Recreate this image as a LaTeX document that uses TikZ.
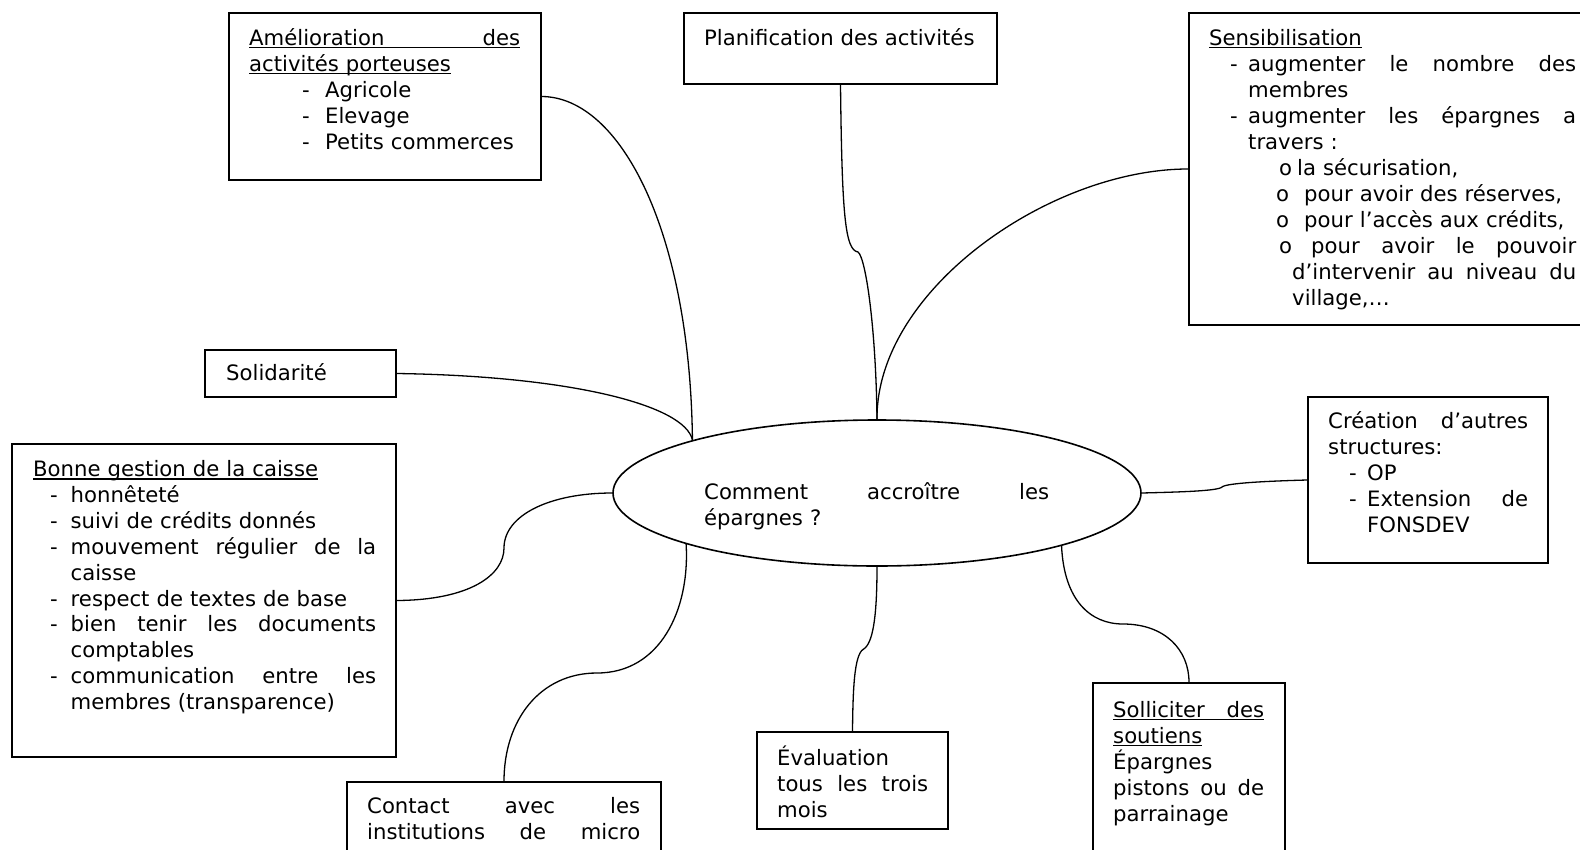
\documentclass[tikz,border=0pt]{standalone}
\usepackage{fontspec}
\setmainfont{DejaVu Sans}
\usetikzlibrary{shapes.geometric}
\newcommand\ulx[1]{\leavevmode\setbox0\hbox{#1}\rlap{\rule[-3pt]{\wd0}{1.2pt}}\box0}
\newcommand\jline[2]{\leavevmode\hbox to #1{#2}}
\newcommand\itm[2]{\hspace*{#1}\makebox[#2][l]{-}}
\begin{document}
\begin{tikzpicture}[x=1pt,y=-1pt,
  box/.style={draw, line width=1.6pt, rectangle, inner sep=0pt},
  txt/.style={anchor=base west, inner sep=0pt, align=left, font=\fontsize{21.2pt}{26pt}\selectfont},
  link/.style={line width=1.3pt}]
\useasboundingbox (0,0) rectangle (1580,849);
\clip (0,0) rectangle (1580,849);
\fill[white] (0,0) rectangle (1580,849);

% boxes
\node[box, minimum width=312pt, minimum height=167pt] (amel) at (385,96.5) {};
\node[box, minimum width=313pt, minimum height=71pt] (plan) at (840.5,48.5) {};
\node[box, minimum width=407pt, minimum height=312pt] (sens) at (1392.5,169) {};
\node[box, minimum width=191pt, minimum height=47pt] (solid) at (300.5,373.5) {};
\node[box, minimum width=384pt, minimum height=313pt] (bonne) at (204,600.5) {};
\node[box, minimum width=314pt, minimum height=88pt] (contact) at (504,826) {};
\node[box, minimum width=191pt, minimum height=97pt] (eval) at (852.5,780.5) {};
\node[box, minimum width=192pt, minimum height=187pt] (sollic) at (1189,776.5) {};
\node[box, minimum width=240pt, minimum height=166pt] (crea) at (1428,480) {};
\node[draw, ellipse, line width=1.6pt, inner sep=0pt, minimum width=528pt, minimum height=146pt] (q) at (877,493) {};

% texts
\node[txt, text width=271pt] (amelT) at (249,45) {%
\ulx{\jline{271pt}{Amélioration\hfill des}}\\
\ulx{activités porteuses}\\
\itm{53pt}{23pt}Agricole\\
\itm{53pt}{23pt}Elevage\\
\itm{53pt}{23pt}Petits commerces};

\node[txt] (planT) at (704,45) {Planification des activités};

\node[txt, text width=367pt] (sensT) at (1209,45) {%
\ulx{Sensibilisation}\\
\jline{367pt}{\itm{21pt}{18pt}augmenter\hfill le\hfill nombre\hfill des}\\
\hspace*{39pt}membres\\
\jline{367pt}{\itm{21pt}{18pt}augmenter\hfill les\hfill épargnes\hfill a}\\
\hspace*{39pt}travers :\\
\hspace*{70pt}\makebox[18pt][l]{o}la sécurisation,\\
\hspace*{67pt}\makebox[28pt][l]{o}pour avoir des réserves,\\
\hspace*{67pt}\makebox[28pt][l]{o}pour l’accès aux crédits,\\
\jline{367pt}{\hspace*{70pt}\makebox[32pt][l]{o}pour\hfill avoir\hfill le\hfill pouvoir}\\
\jline{367pt}{\hspace*{83pt}d’intervenir\hfill au\hfill niveau\hfill du}\\
\hspace*{83pt}village,…};

\node[txt] (solidT) at (226,380) {Solidarité};

\node[txt, text width=343pt, font=\fontsize{21.2pt}{25.9pt}\selectfont] (bonneT) at (33,476.5) {%
\ulx{Bonne gestion de la caisse}\\
\itm{17pt}{20.5pt}honnêteté\\
\itm{17pt}{20.5pt}suivi de crédits donnés\\
\jline{343pt}{\itm{17pt}{20.5pt}mouvement\hfill régulier\hfill de\hfill la}\\
\hspace*{37.5pt}caisse\\
\itm{17pt}{20.5pt}respect de textes de base\\
\jline{343pt}{\itm{17pt}{20.5pt}bien\hfill tenir\hfill les\hfill documents}\\
\hspace*{37.5pt}comptables\\
\jline{343pt}{\itm{17pt}{20.5pt}communication\hfill entre\hfill les}\\
\hspace*{37.5pt}membres (transparence)};

\node[txt, text width=273pt] (contactT) at (367,813) {%
\jline{273pt}{Contact\hfill avec\hfill les}\\
\jline{273pt}{institutions\hfill de\hfill micro}};

\node[txt, text width=151pt] (evalT) at (777,765) {%
Évaluation\\
\jline{151pt}{tous\hfill les\hfill trois}\\
mois};

\node[txt, text width=151pt] (sollicT) at (1113,717) {%
\ulx{\jline{151pt}{Solliciter\hfill des}}\\
\ulx{soutiens}\\
Épargnes\\
\jline{151pt}{pistons\hfill ou\hfill de}\\
parrainage};

\node[txt, text width=200pt] (creaT) at (1328,428) {%
\jline{200pt}{Création\hfill d’autres}\\
structures:\\
\itm{21pt}{18pt}OP\\
\jline{200pt}{\itm{21pt}{18pt}Extension\hfill de}\\
\hspace*{39pt}FONSDEV};

\node[txt, text width=345pt] (qT) at (704,499) {%
\jline{345pt}{Comment\hfill accroître\hfill les}\\
épargnes ?};

% connectors
\draw[link] (amel.east) .. controls (620,97) and (690,230) .. (q.164);
\draw[link] (solid.east) .. controls (570,376) and (685,405) .. (q.164);
\draw[link] (plan.south) .. controls (842,215) and (845,250) .. (858,252)
  .. controls (866,258) and (876,330) .. (q.north);
\draw[link] (sens.west) .. controls (1050,169) and (876,290) .. (q.north);
\draw[link] (bonne.east) .. controls (470,600) and (504,575) .. (504,548)
  .. controls (504,515) and (550,493) .. (q.west);
\draw[link] (contact.north) .. controls (504,720) and (540,673) .. (597,673)
  .. controls (660,673) and (690,610) .. (q.195.5);
\draw[link] (eval.north) .. controls (853,680) and (855,652) .. (865,648)
  .. controls (874,640) and (877,610) .. (q.south);
\draw[link] (q.344.7) .. controls (1064,600) and (1090,624) .. (1123,624)
  .. controls (1165,624) and (1189,650) .. (sollic.north);
\draw[link] (q.east) .. controls (1180,492) and (1218,491) .. (1222,487)
  .. controls (1226,483) and (1270,481) .. (crea.west);
\end{tikzpicture}
\end{document}
